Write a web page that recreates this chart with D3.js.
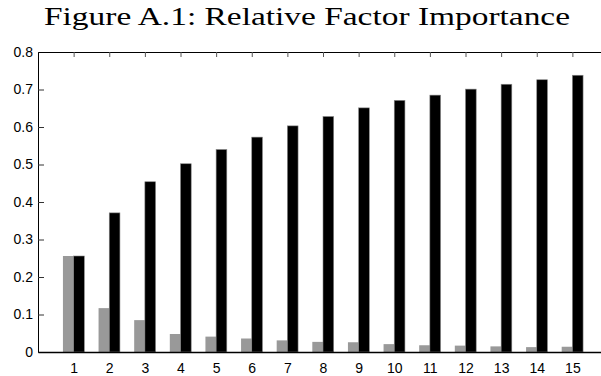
<!DOCTYPE html>
<html>
<head>
<meta charset="utf-8">
<script src="https://cdn.jsdelivr.net/npm/d3@7"></script>
<style>
  body { margin: 0; background: #fff; }
  svg { display: block; }
</style>
</head>
<body>
<svg id="chart" width="601" height="376"></svg>
<script>
// factor index
const factors = [1, 2, 3, 4, 5, 6, 7, 8, 9, 10, 11, 12, 13, 14, 15];
// individual share per factor (grey)
const marginal = [0.256, 0.117, 0.085, 0.048, 0.041, 0.036, 0.031, 0.027, 0.026, 0.021, 0.018, 0.017, 0.015, 0.013, 0.014];
// cumulative share (black)
const cumulative = [0.256, 0.371, 0.454, 0.502, 0.540, 0.573, 0.603, 0.628, 0.651, 0.671, 0.685, 0.701, 0.714, 0.726, 0.738];
const yTicks = [0, 0.1, 0.2, 0.3, 0.4, 0.5, 0.6, 0.7, 0.8];

const svg = d3.select("#chart");
const margin = { top: 52, left: 38, bottom: 24 };
const plotW = 570;   // right edge falls just outside the window
const plotH = 376 - margin.top - margin.bottom;
const tickFont = "'Liberation Sans', Arial, sans-serif";

const g = svg.append("g").attr("transform", "translate(" + margin.left + "," + margin.top + ")");

const x = d3.scaleLinear().domain([0, 16]).range([0, plotW]);
const y = d3.scaleLinear().domain([0, 0.8]).range([plotH, 0]);
const barW = (x(1) - x(0)) * 0.3;

// bars
g.selectAll(".grey").data(factors).enter().append("rect")
  .attr("class", "grey")
  .attr("x", d => x(d) - barW)
  .attr("width", barW)
  .attr("y", (d, i) => y(marginal[i]))
  .attr("height", (d, i) => plotH - y(marginal[i]))
  .attr("fill", "#999999");

g.selectAll(".black").data(factors).enter().append("rect")
  .attr("class", "black")
  .attr("x", d => x(d))
  .attr("width", barW)
  .attr("y", (d, i) => y(cumulative[i]))
  .attr("height", (d, i) => plotH - y(cumulative[i]))
  .attr("fill", "#000")
  .attr("stroke", "#888")
  .attr("stroke-width", 0.6);

// left axis
const yAxis = g.append("g")
  .call(d3.axisLeft(y).tickValues(yTicks).tickSizeInner(-6).tickSizeOuter(0).tickPadding(5)
    .tickFormat(d => d === 0 ? "0" : d3.format(".1f")(d)));
yAxis.attr("font-family", tickFont).attr("font-size", 14);
yAxis.selectAll(".tick line").attr("stroke", "#333");
yAxis.select(".domain").attr("stroke", "#000");

// right axis (faint)
const yAxisR = g.append("g").attr("transform", "translate(" + plotW + ",0)")
  .call(d3.axisRight(y).tickValues(yTicks).tickSizeInner(-8).tickSizeOuter(0).tickFormat(""));
yAxisR.selectAll(".tick line").attr("stroke", "#ccc").attr("stroke-dasharray", "1,7");
yAxisR.select(".domain").attr("stroke", "#000");

// bottom axis
const xAxis = g.append("g").attr("transform", "translate(0," + plotH + ")")
  .call(d3.axisBottom(x).tickValues(factors).tickSize(0).tickPadding(11).tickFormat(d3.format("d")));
xAxis.attr("font-family", tickFont).attr("font-size", 14);
xAxis.select(".domain").attr("stroke", "#000").attr("stroke-width", 1.5);

// top axis
const xTop = g.append("g")
  .call(d3.axisTop(x).tickValues(factors).tickSizeInner(-5).tickSizeOuter(0).tickFormat(""));
xTop.selectAll(".tick line").attr("stroke", "#555");
xTop.select(".domain").attr("stroke", "#000");

// title
svg.append("text")
  .attr("x", 307)
  .attr("y", 25)
  .attr("text-anchor", "middle")
  .attr("font-family", "'Liberation Serif', serif")
  .attr("font-size", 25)
  .attr("textLength", 526)
  .attr("lengthAdjust", "spacingAndGlyphs")
  .text("Figure A.1: Relative Factor Importance");
</script>
</body>
</html>
